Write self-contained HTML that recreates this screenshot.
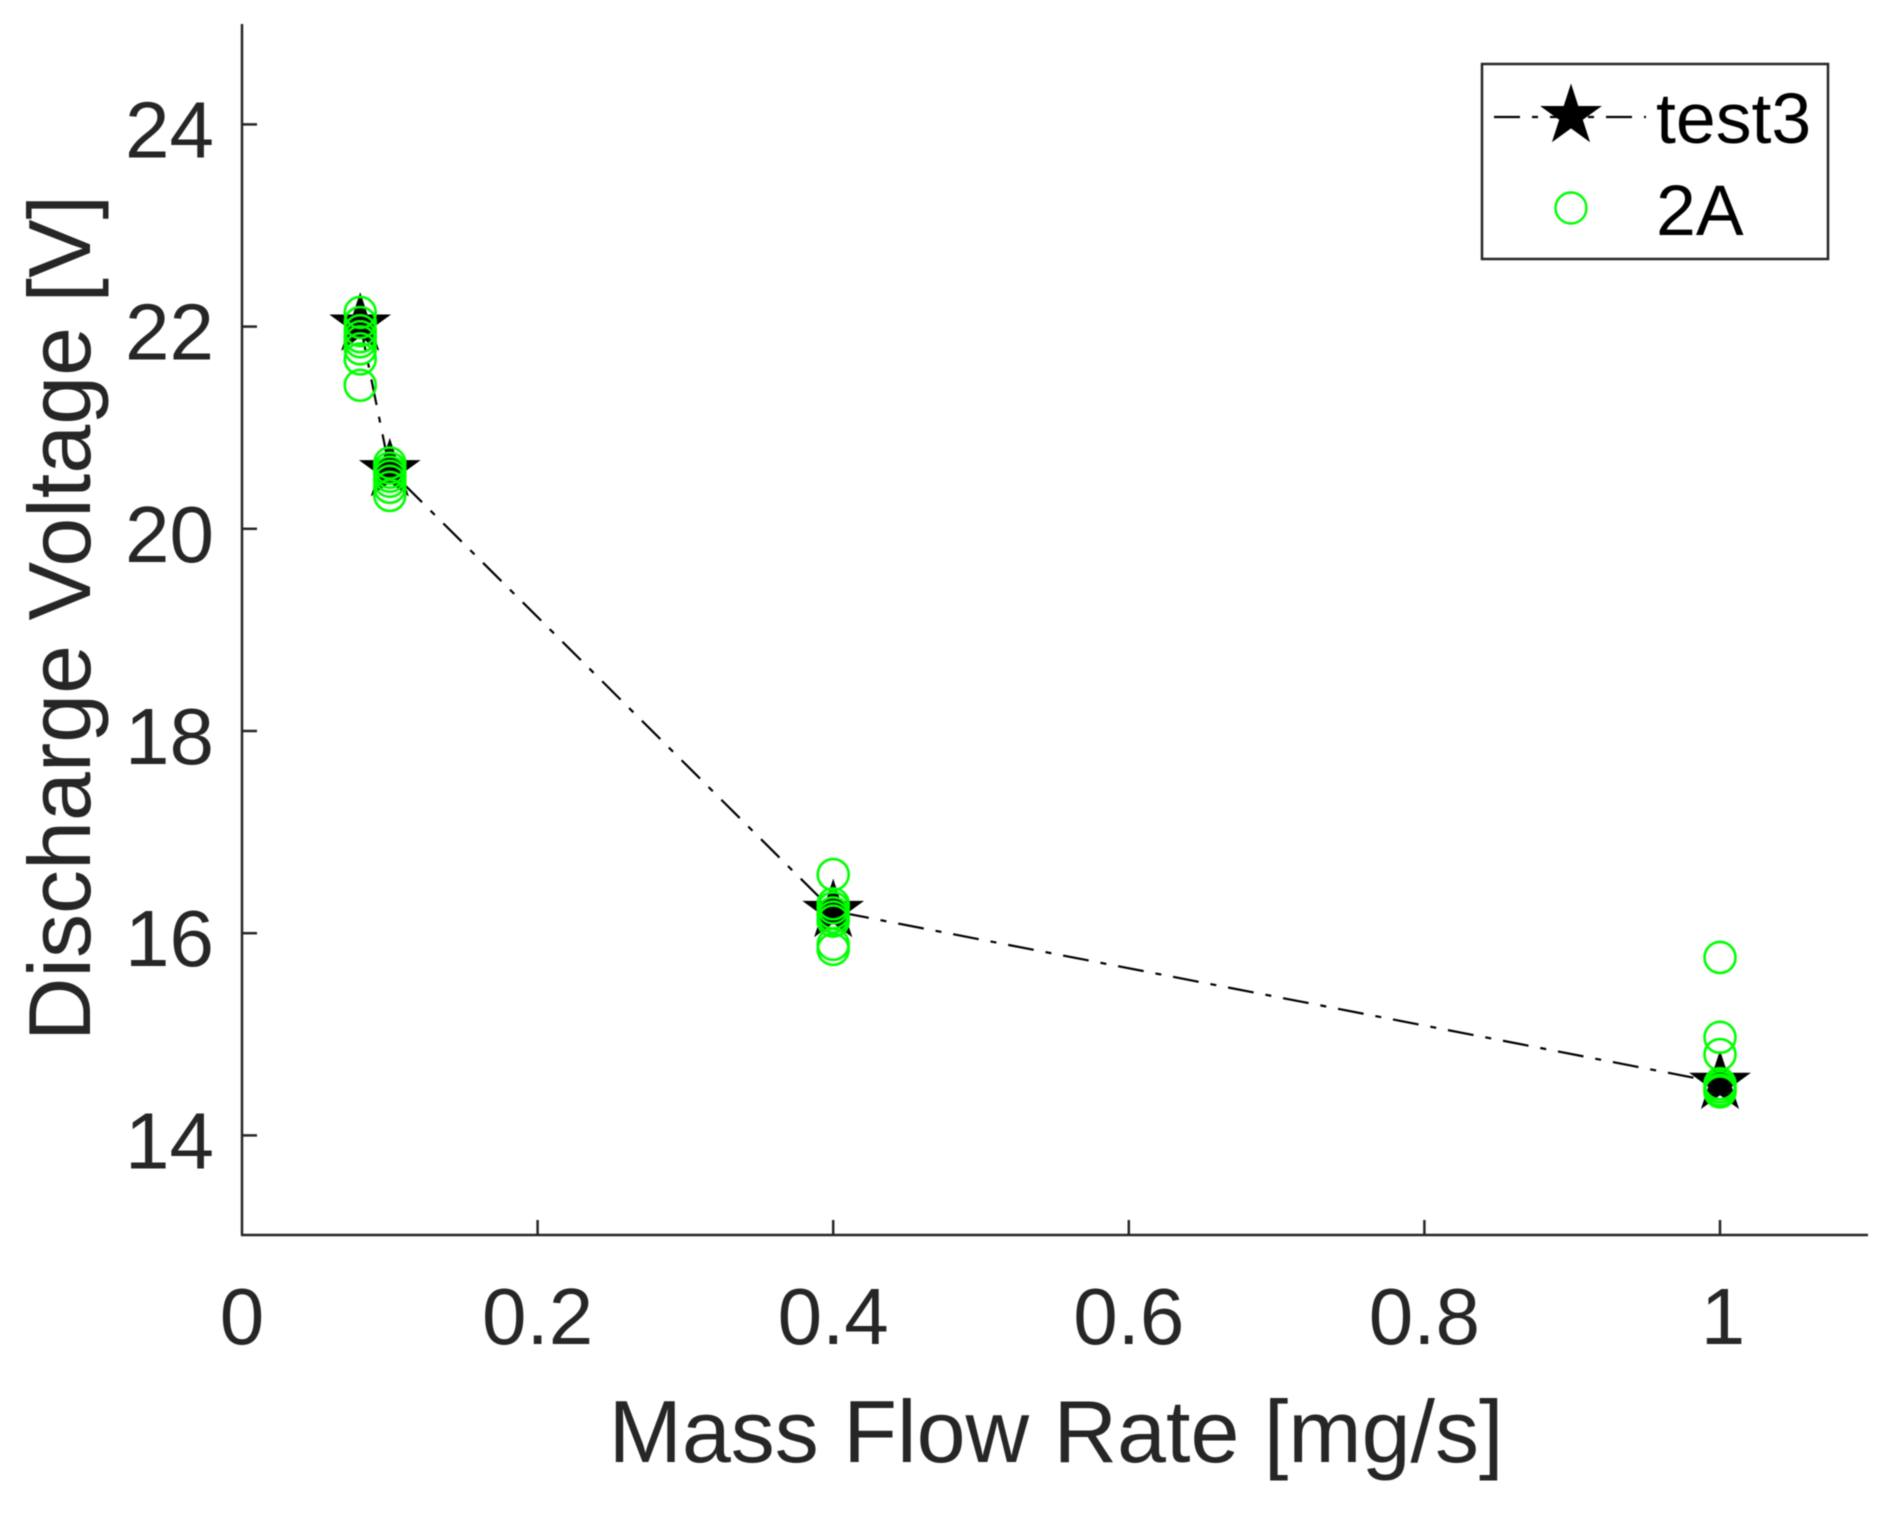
<!DOCTYPE html>
<html>
<head>
<meta charset="utf-8">
<title>Discharge Voltage vs Mass Flow Rate</title>
<style>
html,body{margin:0;padding:0;background:#fff;}
svg{display:block;filter:blur(0.6px);}
text{font-family:"Liberation Sans",Arial,sans-serif;fill:#262626;}
</style>
</head>
<body>
<svg id="chart" width="1888" height="1517" viewBox="0 0 1888 1517" xmlns="http://www.w3.org/2000/svg">
  <g id="axes"></g>
  <g id="marks"></g>
  <text x="1056" y="1462" font-size="88" text-anchor="middle">Mass Flow Rate [mg/s]</text>
  <text transform="translate(90,618) rotate(-90)" font-size="88" text-anchor="middle">Discharge Voltage [V]</text>
  <g>
    <rect x="1482" y="64" width="346" height="195" fill="#fff" stroke="#262626" stroke-width="2.5"/>
    <g>
      <line x1="1494" y1="117" x2="1646" y2="117" stroke="#000" stroke-width="2.2" stroke-dasharray="26 12 6 12"/>
      <polygon id="legend-star" fill="#000"/>
      <text x="1656" y="143" font-size="71.6" style="fill:#000">test3</text>
    </g>
    <g>
      <circle cx="1571" cy="208" r="15.5" fill="none" stroke="#00ff00" stroke-width="2.4"/>
      <text x="1656" y="235" font-size="71.6" style="fill:#000">2A</text>
    </g>
  </g>
</svg>
<script>
const xTicks = [0, 0.2, 0.4, 0.6, 0.8, 1];
const xTickLabels = ["0", "0.2", "0.4", "0.6", "0.8", "1"];
const yTicks = [14, 16, 18, 20, 22, 24];
const yTickLabels = ["14", "16", "18", "20", "22", "24"];
const flowRates = [0.08, 0.1, 0.4, 1];
const test3Voltage = [22.02, 20.58, 16.22, 14.52];
const flow2A = [0.08,0.08,0.08,0.08,0.08,0.08,0.08,0.08,
                0.1,0.1,0.1,0.1,0.1,0.1,0.1,
                0.4,0.4,0.4,0.4,0.4,0.4,0.4,0.4,
                1,1,1,1,1,1,1];
const voltage2A = [22.14,22.04,21.96,21.9,21.85,21.78,21.68,21.42,
                   20.65,20.6,20.56,20.52,20.47,20.41,20.33,
                   16.58,16.29,16.25,16.2,16.16,16.12,15.89,15.84,
                   15.76,14.97,14.8,14.51,14.48,14.45,14.43];

const NS = 'http://www.w3.org/2000/svg';
const xScale = v => 242 + v * 1478;
const yScale = v => 1135.4 - (v - 14) * 101.1;
const axes = document.getElementById('axes');
const marks = document.getElementById('marks');

function make(tag, attrs, parent) {
  const el = document.createElementNS(NS, tag);
  for (const k in attrs) el.setAttribute(k, attrs[k]);
  parent.appendChild(el);
  return el;
}
function starPoints(cx, cy, R) {
  const r = R * 0.382, pts = [];
  for (let i = 0; i < 10; i++) {
    const a = -Math.PI / 2 + i * Math.PI / 5, q = i % 2 ? r : R;
    pts.push((cx + q * Math.cos(a)).toFixed(1) + ',' + (cy + q * Math.sin(a)).toFixed(1));
  }
  return pts.join(' ');
}

const axisStyle = {stroke: '#262626', 'stroke-width': 2.5};
const yAxisLine = make('line', {x1: 242, y1: 24, x2: 242, y2: 1235, ...axisStyle}, axes);


const xAxisLine = make('line', {x1: 241, y1: 1235, x2: 1868, y2: 1235, ...axisStyle}, axes);



xTicks.forEach((t, i) => {
  const x = xScale(t);
  if (t !== 0) {
    const tick = make('line', {x1: x, y1: 1235, x2: x, y2: 1220, ...axisStyle}, axes);
    
    
  }
  const label = make('text', {x: x + (t === 1 ? 3 : 0), y: 1344, 'font-size': 80, 'text-anchor': 'middle'}, axes);
  
  
  label.textContent = xTickLabels[i];
});
yTicks.forEach((t, i) => {
  const y = yScale(t);
  const tick = make('line', {x1: 242, y1: y, x2: 257, y2: y, ...axisStyle}, axes);
  
  
  const label = make('text', {x: 214, y: y + 33, 'font-size': 80, 'text-anchor': 'end'}, axes);
  
  
  label.textContent = yTickLabels[i];
});

const linePts = flowRates.map((f, i) => xScale(f) + ',' + yScale(test3Voltage[i])).join(' ');
const seriesLine = make('polyline', {points: linePts, fill: 'none', stroke: '#000', 'stroke-width': 2.2, 'stroke-dasharray': '26 12 6 12'}, marks);



flowRates.forEach((f, i) => {
  const star = make('polygon', {points: starPoints(xScale(f), yScale(test3Voltage[i]), 32.5), fill: '#000'}, marks);
  
  
});
flow2A.forEach((f, i) => {
  const c = make('circle', {cx: xScale(f), cy: yScale(voltage2A[i]), r: 15.5, fill: 'none', stroke: '#00ff00', 'stroke-width': 2.6}, marks);
  
  
});

document.getElementById('legend-star').setAttribute('points', starPoints(1571, 116, 32.5));
</script>
</body>
</html>
